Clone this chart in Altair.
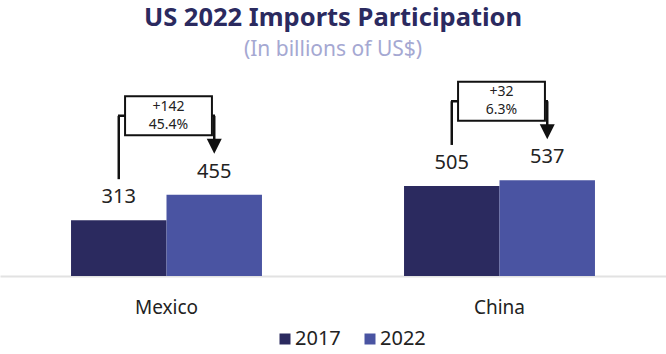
import altair as alt
import pandas as pd

countries = ["Mexico", "China"]
years = ["2017", "2022"]
imports_2017 = [313, 505]
imports_2022 = [455, 537]
colors = ["#2b2a5f", "#4a54a2"]

YMAX = 1200
PLOT_W = 666
PLOT_H = 214
PX = PLOT_H / YMAX


def units(px):
    return px / PX


bars = pd.DataFrame({
    "country": countries * 2,
    "year": [years[0]] * len(countries) + [years[1]] * len(countries),
    "value": imports_2017 + imports_2022,
})

ann = pd.DataFrame({"country": countries, "v17": imports_2017, "v22": imports_2022})
ann["diff"] = ann["v22"] - ann["v17"]
ann["pct"] = ann["diff"] / ann["v17"] * 100
ann["label"] = [[f"+{d}", f"{p:.1f}%"] for d, p in zip(ann["diff"], ann["pct"])]
ann["mid"] = ann["v22"] + units(79)
ann["box_top"] = ann["mid"] + units(19.5)
ann["box_bot"] = ann["mid"] - units(19.5)
ann["left_bot"] = ann["v17"] + units(41)
ann["head"] = ann["v22"] + units(48.5)
ann["y17"] = years[0]
ann["y22"] = years[1]

FONT = "Noto Sans"

x = alt.X("country:N", sort=countries,
          scale=alt.Scale(paddingInner=0.4266, paddingOuter=0.2133),
          axis=alt.Axis(title=None, labelAngle=0, ticks=False, domainColor="#e2e2e2",
                        domainWidth=2, labelFontSize=19, labelPadding=22,
                        labelColor="#222222", labelFont=FONT))
yscale = alt.Scale(domain=[0, YMAX])
xo_scale = alt.Scale(paddingInner=0, paddingOuter=0)

bar_layer = alt.Chart(bars).mark_bar().encode(
    x=x,
    xOffset=alt.XOffset("year:N", sort=years, scale=xo_scale),
    y=alt.Y("value:Q", scale=yscale, axis=None),
    color=alt.Color("year:N", sort=years,
                    scale=alt.Scale(domain=years, range=colors),
                    legend=alt.Legend(title=None, orient="none", legendX=275, legendY=267,
                                      direction="horizontal",
                                      symbolType="square", symbolSize=121,
                                      labelFontSize=20, labelFont=FONT,
                                      labelColor="#222222", columnPadding=19,
                                      labelOffset=0, symbolStrokeWidth=0)),
)

value_labels = alt.Chart(bars).mark_text(dy=-23, baseline="middle", fontSize=20,
                                         font=FONT, color="#222222").encode(
    x=alt.X("country:N", sort=countries),
    xOffset=alt.XOffset("year:N", sort=years),
    y=alt.Y("value:Q"),
    text=alt.Text("value:Q"),
)

left_conn = alt.Chart(ann).mark_rule(color="#111111", strokeWidth=2.5).encode(
    x=alt.X("country:N", sort=countries),
    xOffset=alt.XOffset("y17:N"),
    y=alt.Y("left_bot:Q"),
    y2="mid:Q",
)

right_conn = alt.Chart(ann).mark_rule(color="#111111", strokeWidth=2.5).encode(
    x=alt.X("country:N", sort=countries),
    xOffset=alt.XOffset("y22:N"),
    y=alt.Y("mid:Q"),
    y2="head:Q",
)

horiz = alt.Chart(ann).mark_tick(color="#111111", thickness=2.5, size=97, opacity=1).encode(
    x=alt.X("country:N", sort=countries),
    y=alt.Y("mid:Q"),
)

box = alt.Chart(ann).mark_bar(width={"band": 0.455}, xOffset=2, fill="white",
                              stroke="#111111", strokeWidth=2).encode(
    x=alt.X("country:N", sort=countries),
    y=alt.Y("box_bot:Q"),
    y2="box_top:Q",
)

box_text = alt.Chart(ann).mark_text(fontSize=14, lineHeight=18, baseline="middle",
                                    dy=-9, xOffset=2, font=FONT, color="#222222").encode(
    x=alt.X("country:N", sort=countries),
    y=alt.Y("mid:Q"),
    text="label",
)

head = alt.Chart(ann).mark_point(shape="M-1,-1L1,-1L0,1Z", size=225, filled=True,
                                 color="#111111", opacity=1).encode(
    x=alt.X("country:N", sort=countries),
    xOffset=alt.XOffset("y22:N"),
    y=alt.Y("head:Q"),
)

chart = alt.layer(bar_layer, value_labels, horiz, left_conn, right_conn, head, box, box_text).properties(
    width=PLOT_W,
    height=PLOT_H,
    background="white",
    autosize=alt.AutoSizeParams(type="none"),
    padding={"top": 62, "left": 0, "right": 0, "bottom": 78},
    title=alt.TitleParams(text="US 2022 Imports Participation",
                          subtitle="(In billions of US$)",
                          anchor="middle", fontSize=25.5, fontWeight="bold",
                          font=FONT, subtitleFont=FONT, color="#2b2a5f",
                          subtitleColor="#a5a8d2", subtitleFontSize=21,
                          offset=2, subtitlePadding=8),
).configure_view(strokeWidth=0, stroke="transparent")

chart.save("out.html", embed_options={"renderer": "svg", "actions": False})
